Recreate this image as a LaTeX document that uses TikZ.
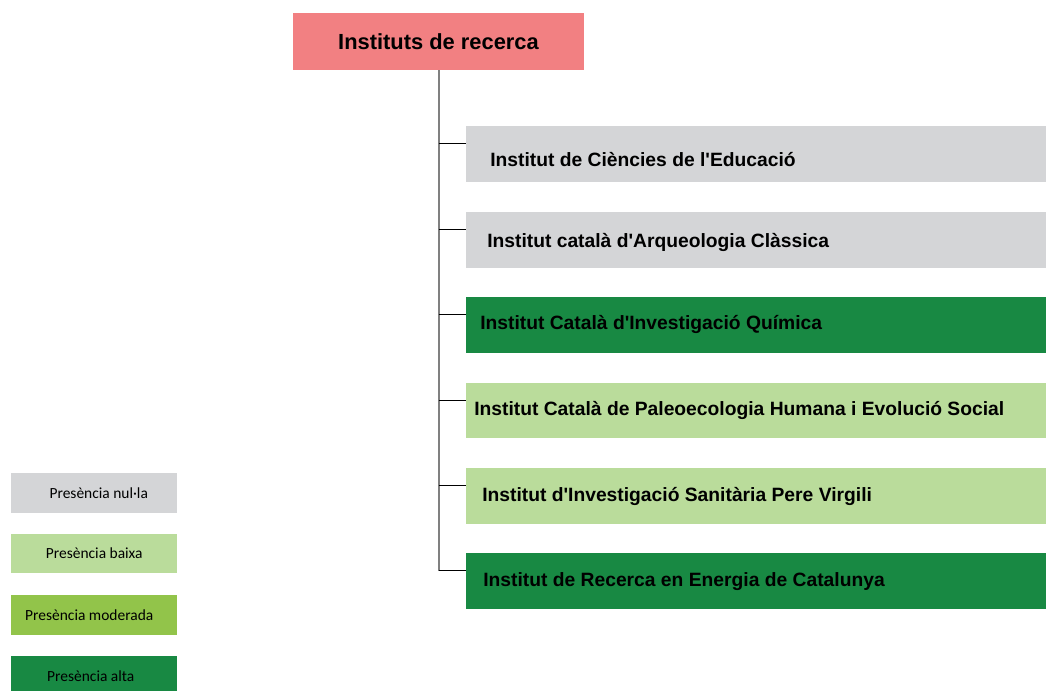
\documentclass[tikz,border=0pt]{standalone}
\usepackage{fontspec}
\setmainfont{Liberation Sans}
\newfontfamily\legendfont{Carlito}
\usetikzlibrary{positioning}
\definecolor{rootred}{RGB}{242,128,130}
\definecolor{nulgrey}{RGB}{212,213,215}
\definecolor{lowgreen}{RGB}{186,220,155}
\definecolor{midgreen}{RGB}{146,196,74}
\definecolor{highgreen}{RGB}{24,137,67}
\newcommand{\ap}{\textquotesingle}
\tikzset{
	root/.style={minimum width=218.25pt, minimum height=42.75pt, fill=rootred, inner sep=0pt, font=\fontsize{16.4}{19}\selectfont\bfseries},
	inst/.style={minimum width=435pt, minimum height=41.6pt, inner sep=0pt, anchor=north west},
	insttext/.style={anchor=west, inner sep=0pt, font=\fontsize{14.45}{17}\selectfont\bfseries},
	legend/.style={minimum width=124.5pt, minimum height=29.6pt, inner sep=0pt, anchor=north west, font=\legendfont\fontsize{11.6}{13}\selectfont},
	trunk/.style={draw=black!50, line width=1.5pt},
	branch/.style={draw=black, line width=0.75pt}
}
\begin{document}
\begin{tikzpicture}[x=0.75pt, y=-0.75pt]
	\useasboundingbox (0,0) rectangle (1046,690);

	\node[root] (instituts) at (438.5,41.5) {Instituts de recerca};

	\node[inst, fill=nulgrey] (ice) at (466,126) {};
	\node[inst, fill=nulgrey] (icac) at (466,212) {};
	\node[inst, fill=highgreen] (iciq) at (466,297) {};
	\node[inst, fill=lowgreen] (iphes) at (466,382.5) {};
	\node[inst, fill=lowgreen] (ispv) at (466,468) {};
	\node[inst, fill=highgreen] (irec) at (466,553) {};

	\node[insttext] (ice-t) at (490,159.5) {Institut de Ciències de l\ap Educació};
	\node[insttext] (icac-t) at (487,242.5) {Institut català d\ap Arqueologia Clàssica};
	\node[insttext] (iciq-t) at (480,324.5) {Institut Català d\ap Investigació Química};
	\node[insttext] (iphes-t) at (474,410.5) {Institut Català de Paleoecologia Humana i Evolució Social};
	\node[insttext] (ispv-t) at (482,496.5) {Institut d\ap Investigació Sanitària Pere Virgili};
	\node[insttext] (irec-t) at (483,581.5) {Institut de Recerca en Energia de Catalunya};

	\foreach \n in {ice, icac, iciq, iphes, ispv, irec}
		\coordinate (\n-in) at ([yshift=-13.2pt]\n.north west);

	\draw[trunk] (instituts.south) -- (instituts.south |- irec-in);
	\foreach \n in {ice, icac, iciq, iphes, ispv, irec}
		\draw[branch] (instituts.south |- \n-in) -- (\n-in);

	\node[legend, fill=nulgrey] (nulla) at (11,473) {\hspace*{6.75pt}Presència nul·la};
	\node[legend, fill=lowgreen] (baixa) at (11,533.5) {Presència baixa};
	\node[legend, fill=midgreen] (moderada) at (10.5,595) {\hspace*{-6.75pt}Presència moderada};
	\node[legend, fill=highgreen] (alta) at (10.5,656) {\hspace*{-4.5pt}Presència alta};
\end{tikzpicture}
\end{document}
